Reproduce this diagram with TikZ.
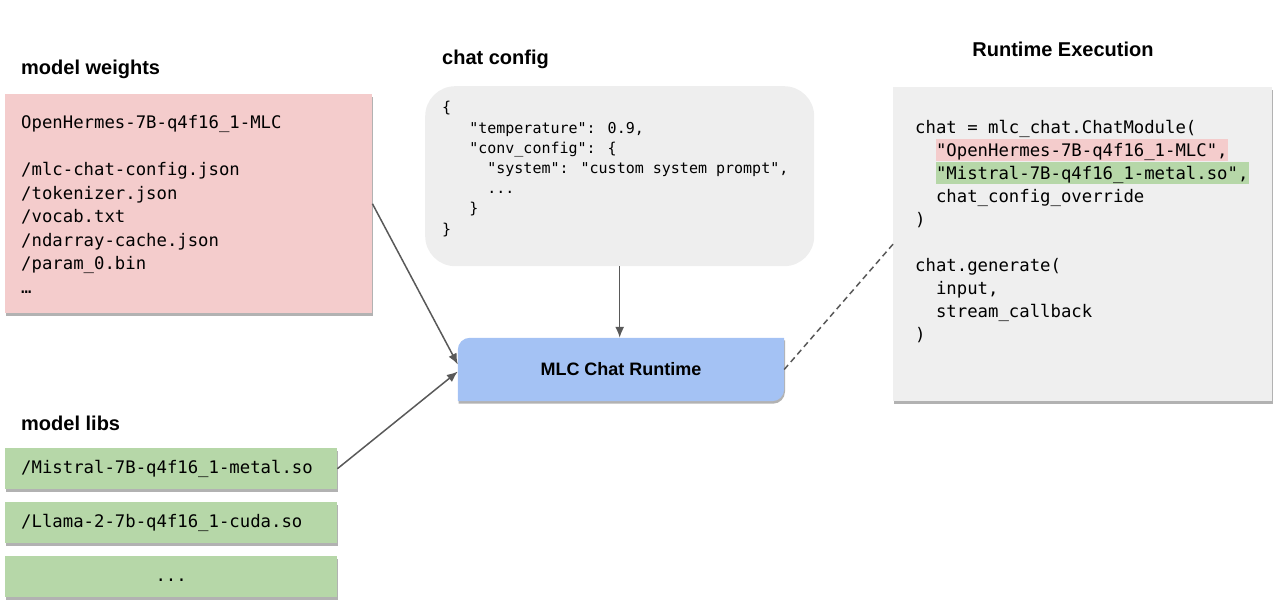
\documentclass[tikz,border=0pt]{standalone}
\usepackage{fontspec}
\setmainfont{Liberation Sans}
\newfontfamily\codefont{DejaVu Sans Mono}
\usetikzlibrary{arrows.meta,shadows}
\definecolor{wpink}{HTML}{F4CCCC}
\definecolor{lgreen}{HTML}{B6D7A8}
\definecolor{cfggray}{HTML}{EEEEEE}
\definecolor{execgray}{HTML}{EFEFEF}
\definecolor{rtblue}{HTML}{A4C2F4}
\definecolor{linegray}{HTML}{595959}
\newcommand\hlbox[2]{{\setlength\fboxsep{0pt}\colorbox{#1}{\rule[-5pt]{0pt}{22pt}#2}}}
\tikzset{
  heading/.style={font=\fontsize{20}{24}\selectfont\bfseries, inner sep=0pt, anchor=base west},
  codeL/.style={font=\codefont\fontsize{17.3}{23.5}\selectfont, align=left, inner sep=0pt, anchor=base west},
  codeR/.style={font=\codefont\fontsize{17.3}{23}\selectfont, align=left, inner sep=0pt, anchor=base west},
  codeS/.style={font=\codefont\fontsize{15}{20.2}\selectfont, align=left, inner sep=0pt, anchor=base west},
  boxshadow/.style={drop shadow={shadow xshift=0.8pt, shadow yshift=-2.5pt, opacity=0.3, fill=black}},
  plainbox/.style={inner sep=0pt, anchor=north west},
  libbox/.style={fill=lgreen, boxshadow, anchor=north west, text width=300pt, inner xsep=16pt, inner ysep=0pt,
    minimum height=41pt, text height=13pt, text depth=4pt, font=\codefont\fontsize{17.3}{20}\selectfont},
  conn/.style={draw=linegray, line width=1.5pt, -{Latex[length=11pt,width=9pt]}},
  dashline/.style={draw=linegray, line width=1.5pt, dash pattern=on 6pt off 4pt},
}
\begin{document}
\begin{tikzpicture}[x=1pt,y=-1pt]
\useasboundingbox (0,0) rectangle (1280,613);

% headings
\node[heading] (hweights) at (21,74) {model weights};
\node[heading] (hcfg) at (442,64) {chat config};
\node[heading, anchor=base] (hexec) at (1063,56) {Runtime Execution};
\node[heading] (hlibs) at (21,430) {model libs};

% model weights (anchor = baseline of last line)
\node[plainbox, fill=wpink, boxshadow, minimum width=367pt, minimum height=219pt] (weights) at (5,94) {};
\node[codeL] (weightstxt) at (21,293) {OpenHermes-7B-q4f16\_1-MLC\\[23.5pt]/mlc-chat-config.json\\/tokenizer.json\\/vocab.txt\\/ndarray-cache.json\\/param\_0.bin\\…};

% chat config
\node[plainbox, fill=cfggray, rounded corners=30pt, minimum width=389pt, minimum height=180pt] (cfg) at (425,86) {};
\node[codeS] (cfgtxt) at (442,234) {\{\\\hphantom{000}"temperature": 0.9,\\\hphantom{000}"conv\_config": \{\\\hphantom{00000}"system": "custom system prompt",\\\hphantom{00000}...\\\hphantom{000}\}\\\}};

% runtime execution
\node[plainbox, fill=execgray, boxshadow, minimum width=379pt, minimum height=314pt] (exec) at (893,87) {};
\node[codeR] (exectxt) at (915,340) {chat = mlc\_chat.ChatModule(\\\hphantom{00}\hlbox{wpink}{"OpenHermes-7B-q4f16\_1-MLC",}\\\hphantom{00}\hlbox{lgreen}{"Mistral-7B-q4f16\_1-metal.so",}\\\hphantom{00}chat\_config\_override\\)\\[23pt]chat.generate(\\\hphantom{00}input,\\\hphantom{00}stream\_callback\\)};

% MLC chat runtime
\node[inner sep=0pt, minimum width=326pt, minimum height=63pt] (rt) at (621,369.5) {};
\fill[rtblue, boxshadow] (rt.north west) [rounded corners=12pt] rectangle (rt.south east)
  [sharp corners] ([xshift=-14pt]rt.north east) rectangle ++(14,14)
  ([yshift=14pt]rt.south west) rectangle ++(14,14);
\node[font=\fontsize{18}{22}\selectfont\bfseries] (rtlabel) at (rt.center) {MLC Chat Runtime};

% model libs
\node[libbox, align=left] (lib1) at (5,448) {/Mistral-7B-q4f16\_1-metal.so};
\node[libbox, align=left] (lib2) at (5,502) {/Llama-2-7b-q4f16\_1-cuda.so};
\node[libbox, align=center] (lib3) at (5,556) {...};

% connectors
\draw[conn] (weights.east) -- ([yshift=5pt]rt.west);
\draw[conn] (lib1.east) -- ([yshift=-2pt]rt.west);
\draw[conn] (cfg.south) -- (cfg.south |- rt.north);
\draw[dashline] (rt.east) -- (exec.west);
\end{tikzpicture}
\end{document}
